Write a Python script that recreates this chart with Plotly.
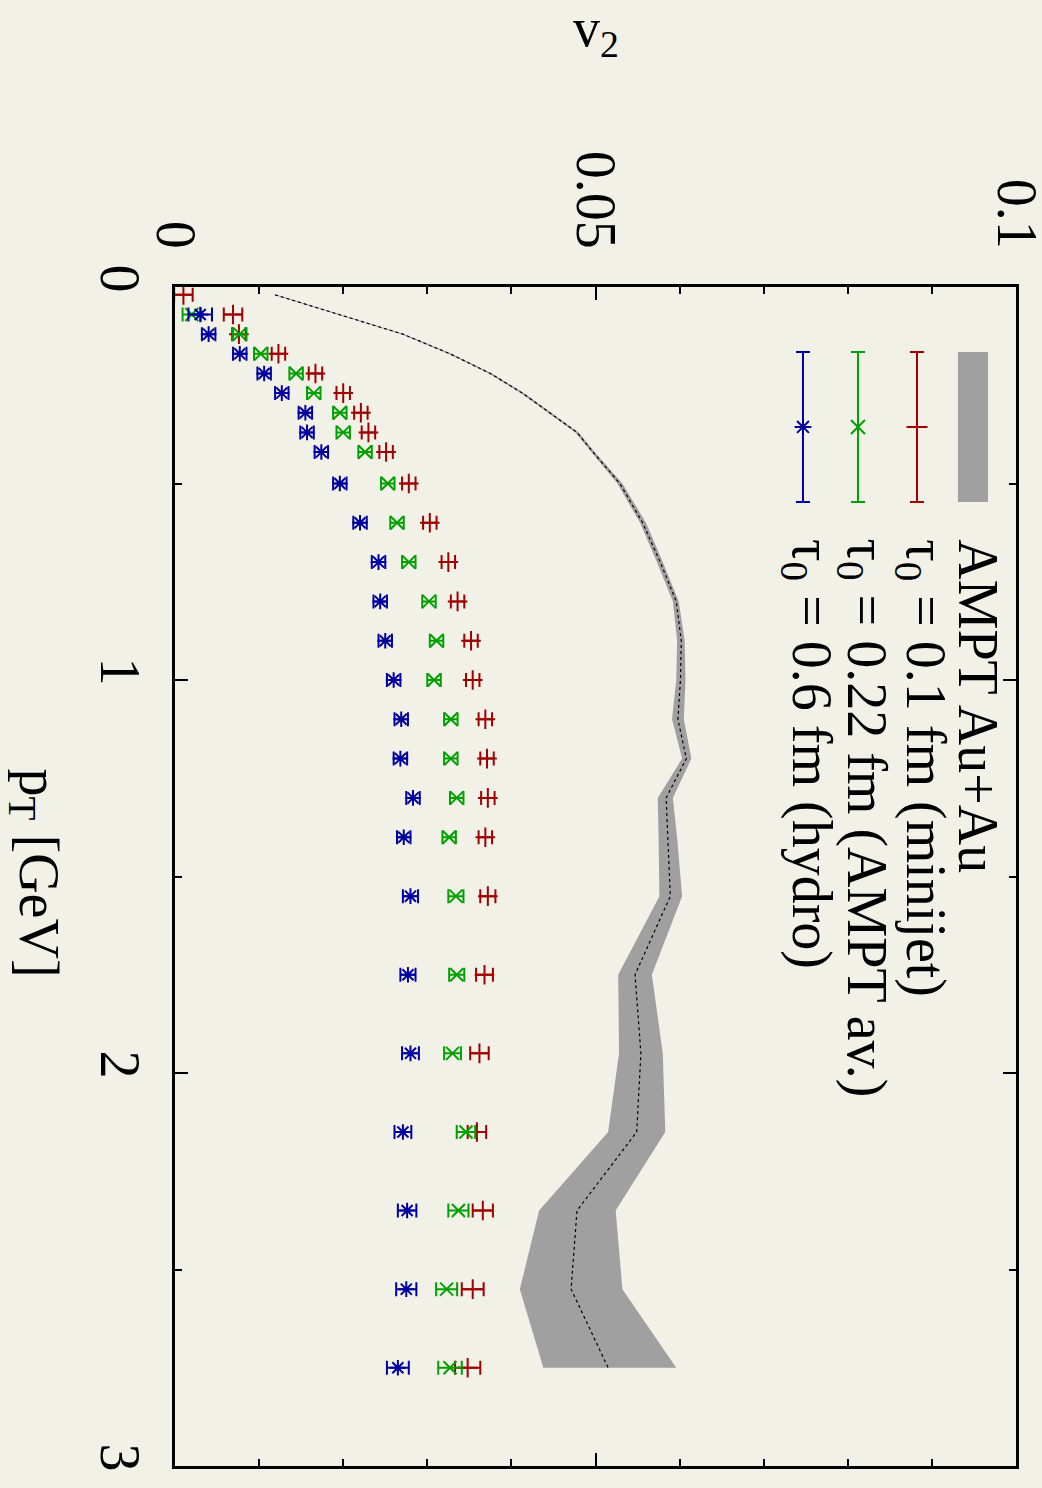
import plotly.graph_objects as go

# transverse-momentum bins (GeV)
pt = [0.02, 0.07, 0.12, 0.17, 0.22, 0.27, 0.32, 0.37, 0.42, 0.5, 0.6, 0.7, 0.8,
      0.9, 1.0, 1.1, 1.2, 1.3, 1.4, 1.55, 1.75, 1.95, 2.15, 2.35, 2.55, 2.75]

# AMPT Au+Au band: central value and lower/upper edges
ampt_mid = [0.0119, 0.0196, 0.0271, 0.0327, 0.0375, 0.0413, 0.0446, 0.0478, 0.0497,
            0.0529, 0.0556, 0.0577, 0.0596, 0.0602, 0.0601, 0.0598, 0.0608, 0.0584,
            0.0586, 0.0589, 0.0547, 0.0554, 0.0549, 0.0478, 0.0471, 0.0515]
ampt_lo = [0.0117, 0.0194, 0.0269, 0.0325, 0.0373, 0.0411, 0.0444, 0.0476, 0.0495,
           0.0526, 0.0553, 0.0573, 0.0592, 0.0597, 0.0596, 0.0591, 0.0603, 0.0574,
           0.0575, 0.0576, 0.0527, 0.0528, 0.0515, 0.0433, 0.0410, 0.0438]
ampt_hi = [0.0121, 0.0198, 0.0273, 0.0329, 0.0377, 0.0415, 0.0448, 0.0480, 0.0499,
           0.0532, 0.0560, 0.0580, 0.0599, 0.0606, 0.0607, 0.0605, 0.0614, 0.0592,
           0.0597, 0.0603, 0.0567, 0.0580, 0.0583, 0.0524, 0.0532, 0.0596]

# tau0 = 0.1 fm (minijet)
v2_minijet = [0.0010, 0.0069, 0.0076, 0.0123, 0.0167, 0.0200, 0.0221, 0.0230, 0.0251,
              0.0278, 0.0303, 0.0325, 0.0336, 0.0352, 0.0354, 0.0369, 0.0371, 0.0372,
              0.0369, 0.0372, 0.0368, 0.0362, 0.0359, 0.0366, 0.0354, 0.0348]
err_minijet = [0.0011, 0.0011, 0.0008, 0.0008, 0.0008, 0.0008, 0.0008, 0.0008, 0.0008,
               0.0008, 0.0008, 0.0008, 0.0008, 0.0008, 0.0008, 0.0008, 0.0008, 0.0008,
               0.0008, 0.0009, 0.0010, 0.0011, 0.0011, 0.0012, 0.0013, 0.0015]

# tau0 = 0.22 fm (AMPT av.)
v2_ampt_av = [None, 0.0020, 0.0077, 0.0102, 0.0144, 0.0165, 0.0196, 0.0200, 0.0226,
              0.0253, 0.0264, 0.0278, 0.0302, 0.0311, 0.0308, 0.0328, 0.0328, 0.0335,
              0.0326, 0.0334, 0.0335, 0.0330, 0.0346, 0.0337, 0.0323, 0.0327]
err_ampt_av = [None, 0.0011, 0.0008, 0.0008, 0.0008, 0.0008, 0.0008, 0.0008, 0.0008,
               0.0008, 0.0008, 0.0008, 0.0008, 0.0008, 0.0008, 0.0008, 0.0008, 0.0008,
               0.0008, 0.0009, 0.0009, 0.0010, 0.0011, 0.0012, 0.00125, 0.0014]

# tau0 = 0.6 fm (hydro)
v2_hydro = [None, 0.0030, 0.0040, 0.0077, 0.0106, 0.0127, 0.0155, 0.0157, 0.0174,
            0.0196, 0.0220, 0.0242, 0.0244, 0.0250, 0.0260, 0.0269, 0.0268, 0.0283,
            0.0272, 0.0280, 0.0277, 0.0280, 0.0271, 0.0276, 0.0275, 0.0265]
err_hydro = [None, 0.0014, 0.0008, 0.0008, 0.0008, 0.0008, 0.0008, 0.0008, 0.0008,
             0.0008, 0.0008, 0.0008, 0.0008, 0.0008, 0.0008, 0.0008, 0.0008, 0.0008,
             0.0008, 0.0009, 0.0009, 0.0010, 0.0010, 0.0011, 0.0012, 0.0013]

# axis tick labels
v2_ticks = [0, 0.05, 0.1]
v2_ticktext = ["0", "0.05", "0.1"]
pt_ticks = [0, 1, 2, 3]
pt_ticktext = ["0", "1", "2", "3"]

legend_labels = ["AMPT Au+Au",
                 "τ<sub>0</sub> = 0.1 fm (minijet)",
                 "τ<sub>0</sub> = 0.22 fm (AMPT av.)",
                 "τ<sub>0</sub> = 0.6 fm (hydro)"]

BG = "#f2f1e7"
GREY = "#a0a0a0"
RED = "#a00000"
GREEN = "#00a000"
BLUE = "#0000a0"
FONT = "Liberation Serif"
FS = 56

fig = go.Figure()

# grey uncertainty band (closed polygon lo -> hi)
fig.add_trace(go.Scatter(
    x=ampt_lo + ampt_hi[::-1], y=pt + pt[::-1],
    fill="toself", fillcolor=GREY, line=dict(width=0), mode="lines",
    hoverinfo="skip"))
# dotted central line
fig.add_trace(go.Scatter(
    x=ampt_mid, y=pt, mode="lines",
    line=dict(color="black", width=1.2, dash="dot")))

series = [
    (v2_minijet, err_minijet, RED, "cross-thin-open", 14),
    (v2_ampt_av, err_ampt_av, GREEN, "x-thin-open", 13),
    (v2_hydro, err_hydro, BLUE, "asterisk-open", 13),
]
for vals, errs, col, sym, sz in series:
    fig.add_trace(go.Scatter(
        x=vals, y=pt, mode="markers",
        marker=dict(symbol=sym, size=sz, color=col, line=dict(color=col, width=2)),
        error_x=dict(type="data", array=errs, color=col, thickness=2, width=7)))

# legend keys on an overlay axis spanning the plot area (0..1 in both directions)
key_x = [0.8823, 0.8121, 0.7467]
key_y = 0.8813
key_half = 0.0636
for kx, (_, _, col, sym, sz) in zip(key_x, series):
    fig.add_trace(go.Scatter(
        x=[kx], y=[key_y], xaxis="x2", yaxis="y2", mode="markers",
        marker=dict(symbol=sym, size=sz + 1, color=col, line=dict(color=col, width=2)),
        error_y=dict(type="data", array=[key_half], color=col, thickness=2, width=7)))

fig.add_shape(type="rect", xref="x2", yref="y2",
              x0=0.931, x1=0.9667, y0=key_y - key_half, y1=key_y + key_half,
              fillcolor=GREY, line=dict(width=0), layer="below")

# legend text, rotated like the rest of the figure
text_x = [0.9545, 0.8880, 0.8180, 0.7525]
for tx, lab in zip(text_x, legend_labels):
    fig.add_annotation(xref="x2", yref="y2", x=tx, y=0.7880, text=lab,
                       textangle=90, showarrow=False, xanchor="center",
                       yanchor="top", font=dict(family=FONT, size=FS, color="black"))

# axis titles
fig.add_annotation(xref="paper", yref="paper", x=0.5, y=1.217, text="v<sub>2</sub>",
                   showarrow=False, xanchor="center", yanchor="middle",
                   font=dict(family=FONT, size=FS - 2, color="black"))
fig.add_annotation(xref="paper", yref="paper", x=-0.166, y=0.503,
                   text="p<sub>T</sub> [GeV]", textangle=90, showarrow=False,
                   xanchor="center", yanchor="middle",
                   font=dict(family=FONT, size=FS, color="black"))

axis_common = dict(
    showline=True, linewidth=2.5, linecolor="black", mirror="ticks",
    showgrid=False, zeroline=False, ticks="inside", ticklen=13, tickwidth=1.5,
    tickcolor="black", tickangle=90, tickmode="array", ticklabeloverflow="allow",
    automargin=False,
    tickfont=dict(family=FONT, size=FS, color="black"),
)

fig.update_layout(
    width=1042, height=1488, autosize=False,
    margin=dict(l=175, r=26, t=287, b=22, autoexpand=False),
    paper_bgcolor=BG, plot_bgcolor=BG, showlegend=False,
    font=dict(family=FONT, size=FS, color="black"),
    xaxis=dict(range=[0, 0.1], side="top", tickvals=v2_ticks, ticktext=v2_ticktext,
               ticklabelstandoff=16,
               minor=dict(dtick=0.01, tick0=0, ticks="inside", ticklen=7, tickwidth=1.5,
                          tickcolor="black", showgrid=False),
               **axis_common),
    yaxis=dict(range=[3, 0], tickvals=pt_ticks, ticktext=pt_ticktext,
               ticklabelstandoff=4,
               minor=dict(dtick=0.5, tick0=0, ticks="inside", ticklen=7, tickwidth=1.5,
                          tickcolor="black", showgrid=False),
               **axis_common),
    xaxis2=dict(range=[0, 1], overlaying="x", visible=False, fixedrange=True),
    yaxis2=dict(range=[0, 1], overlaying="y", visible=False, fixedrange=True),
)

fig.write_html("out.html")
